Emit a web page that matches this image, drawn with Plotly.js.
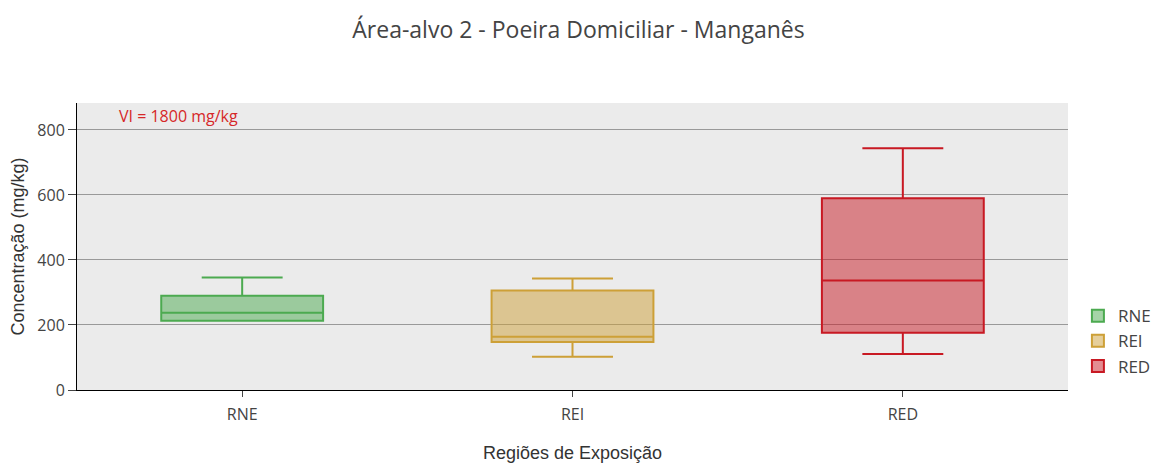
<!DOCTYPE html>
<html>
<head>
<meta charset="utf-8">
<script src="https://cdn.plot.ly/plotly-3.0.1.min.js"></script>
<style>body{margin:0;padding:0;} #chart{width:1157px;height:463px;}</style>
</head>
<body>
<div id="chart"></div>
<script>
var regioes = ['RNE', 'REI', 'RED'];
var q1 = [213, 148, 176];
var medianas = [238, 164, 337];
var q3 = [290, 306, 590];
var minimos = [213, 102, 111];
var maximos = [346, 343, 744];

var linhas = ['rgb(76,170,80)', 'rgb(205,160,55)', 'rgb(200,25,35)'];
var preench = ['rgba(76,170,80,0.5)', 'rgba(205,160,55,0.5)', 'rgba(200,25,35,0.5)'];

var traces = regioes.map(function (r, i) {
    return {
        type: 'box',
        name: r,
        x: [r],
        q1: [q1[i]],
        median: [medianas[i]],
        q3: [q3[i]],
        lowerfence: [minimos[i]],
        upperfence: [maximos[i]],
        width: 0.49,
        whiskerwidth: 0.5,
        line: {color: linhas[i], width: 2},
        fillcolor: preench[i],
        hoverinfo: 'y'
    };
});

var layout = {
    width: 1157,
    height: 463,
    margin: {l: 77, r: 89, t: 103, b: 73, autoexpand: false},
    paper_bgcolor: 'white',
    plot_bgcolor: '#ebebeb',
    font: {family: 'Open Sans, sans-serif', color: '#444', size: 16},
    title: {
        text: 'Área-alvo 2 - Poeira Domiciliar - Manganês',
        font: {family: 'Open Sans', size: 23, color: '#444'},
        x: 0.5, y: 0.935, xanchor: 'center', yanchor: 'middle'
    },
    xaxis: {
        type: 'category',
        range: [-0.5, 2.5],
        title: {text: 'Regiões de Exposição', font: {family: 'Liberation Sans, Arial', size: 18, color: '#333'}, standoff: 22},
        showline: true, linecolor: '#000', linewidth: 1,
        ticks: 'outside', ticklen: 6, tickcolor: '#444',
        ticklabelstandoff: 4,
        showgrid: false
    },
    yaxis: {
        title: {text: 'Concentração (mg/kg)', font: {family: 'Liberation Sans, Arial', size: 18, color: '#333'}, standoff: 8},
        range: [0, 883],
        dtick: 200,
        showline: true, linecolor: '#000', linewidth: 1,
        ticks: 'outside', ticklen: 8, tickcolor: '#444',
        gridcolor: '#999999', gridwidth: 1,
        zeroline: false
    },
    boxmode: 'overlay',
    showlegend: true,
    legend: {x: 1.01, y: 0.32, yanchor: 'top', font: {size: 17}},
    annotations: [{
        text: 'VI = 1800 mg/kg',
        xref: 'paper', yref: 'paper',
        x: 0.04, y: 1.0, xanchor: 'left', yanchor: 'top',
        showarrow: false,
        font: {color: '#d62728', size: 16}
    }]
};

Plotly.newPlot('chart', traces, layout, {displayModeBar: false});
</script>
</body>
</html>
